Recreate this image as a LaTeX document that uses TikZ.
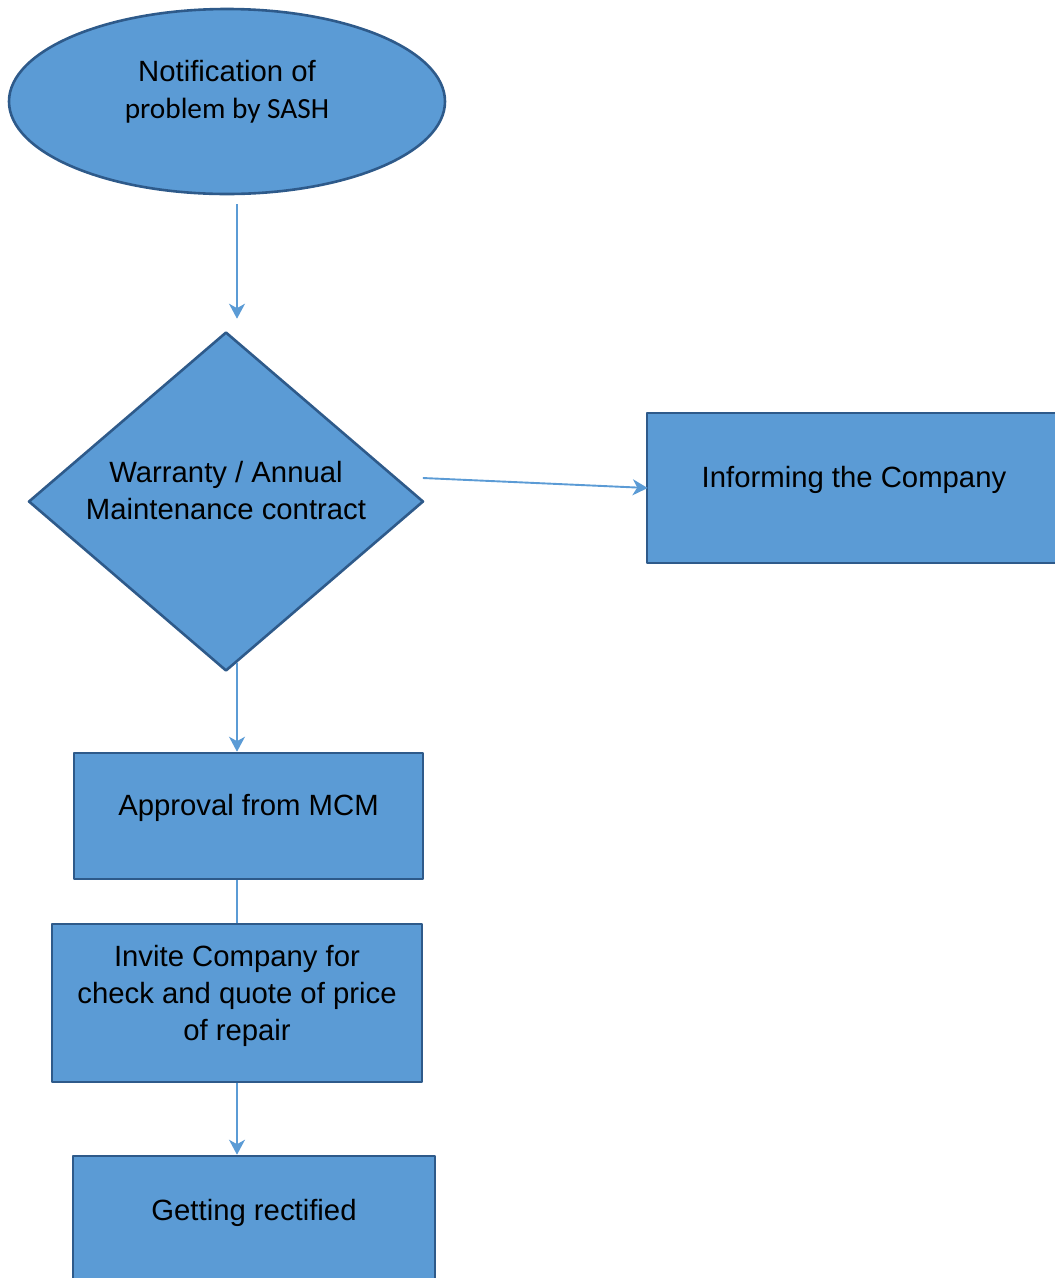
\documentclass[tikz,border=0pt]{standalone}
\usepackage{fontspec}
\setmainfont{Liberation Sans}
\newfontfamily\calibrifont{Carlito}
\usetikzlibrary{shapes.geometric,arrows.meta,positioning}
\definecolor{shapeblue}{HTML}{5B9BD5}
\definecolor{edgeblue}{HTML}{2E5A8A}
\tikzset{
  flowbox/.style={draw=edgeblue,fill=shapeblue,line width=2.6pt,inner sep=0pt},
  flowtext/.style={font=\fontsize{29.3}{37}\selectfont,align=center,text=black,inner sep=0pt},
  flowarrow/.style={draw=shapeblue,line width=1.9pt,-{Stealth[inset=4.5pt,length=15pt,width=16pt]}},
  flowline/.style={draw=shapeblue,line width=1.9pt},
}

\begin{document}
\begin{tikzpicture}[x=1pt,y=-1pt,join=round] % Repair procedure
        \useasboundingbox (0,0) rectangle (1055,1278);
        \node[flowbox,ellipse,minimum width=436pt,minimum height=185pt] (notify) at (227,101.5) {};
        \node[flowbox,diamond,minimum width=395pt,minimum height=339pt] (warranty) at (226,501.5) {};
        \node[flowbox,minimum width=414pt,minimum height=150pt] (inform) at (854,488) {};
        \node[flowbox,minimum width=349pt,minimum height=126pt] (approval) at (248.5,816) {};
        \node[flowbox,minimum width=370pt,minimum height=158pt] (invite) at (237,1003) {};
        \node[flowbox,minimum width=362pt,minimum height=140pt] (rectify) at (254,1226) {};
        \node[flowtext] (notifylabel) at ([yshift=9.5pt]notify.center) {Notification of\\\calibrifont problem by SASH};
        \node[flowtext] (warrantylabel) at ([yshift=11pt]warranty.center) {Warranty / Annual\\Maintenance contract};
        \node[flowtext] (informlabel) at ([yshift=8pt]inform.center) {Informing the Company};
        \node[flowtext] (approvallabel) at ([yshift=8pt]approval.center) {Approval from MCM};
        \node[flowtext] (invitelabel) at ([yshift=7.5pt]invite.center) {Invite Company for\\check and quote of price\\of repair};
        \node[flowtext] (rectifylabel) at ([yshift=13pt]rectify.center) {Getting rectified};
        \draw[flowarrow] ([xshift=10pt,yshift=-9pt]notify.south) -- ([xshift=11pt,yshift=12pt]warranty.north);
        \draw[flowarrow] ([xshift=-2pt,yshift=23.5pt]warranty.east) -- ([xshift=2pt]inform.west);
        \draw[flowarrow] ([xshift=11pt,yshift=9.4pt]warranty.south) -- ([xshift=-11.5pt]approval.north);
        \draw[flowline] ([xshift=-11.5pt]approval.south) -- (invite.north);
        \draw[flowarrow] (invite.south) -- ([xshift=-17pt]rectify.north);
\end{tikzpicture}
\end{document}
